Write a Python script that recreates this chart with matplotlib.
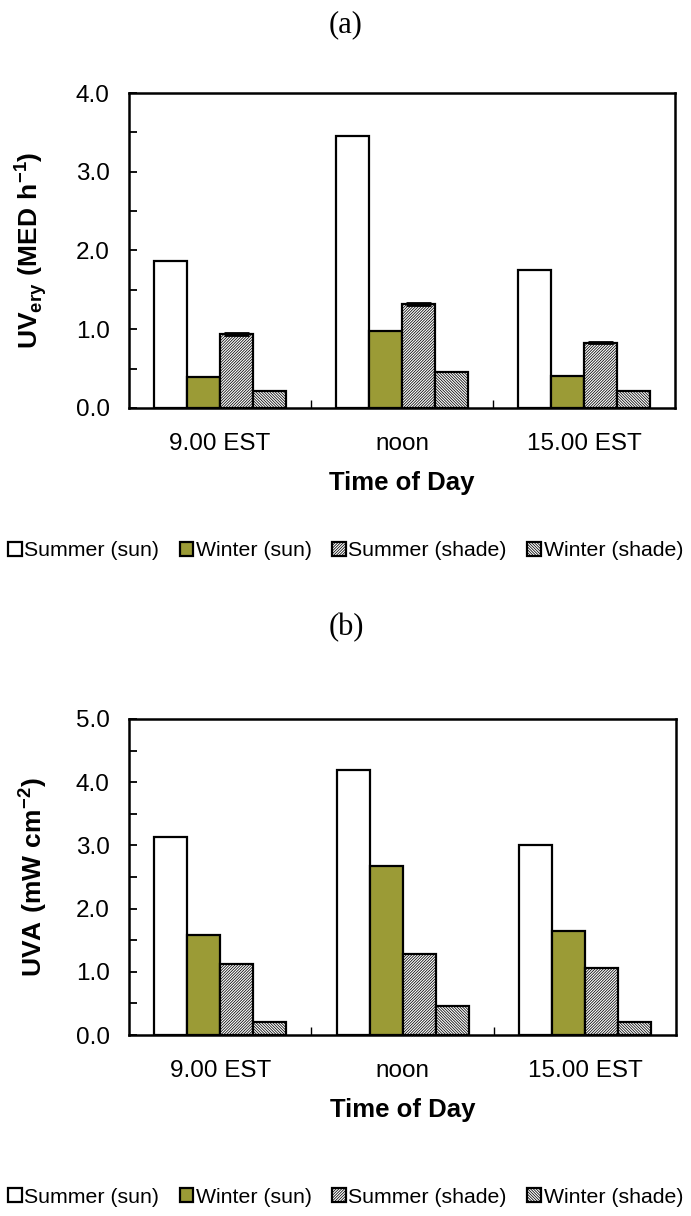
import numpy as np
import matplotlib
matplotlib.use("Agg")
import matplotlib.pyplot as plt
from matplotlib.ticker import MultipleLocator, FormatStrFormatter

plt.rcParams["font.family"] = ["Liberation Sans", "DejaVu Sans"]
plt.rcParams["mathtext.fontset"] = "custom"
plt.rcParams["mathtext.rm"] = "Liberation Sans"
plt.rcParams["mathtext.bf"] = "Liberation Sans:bold"
plt.rcParams["hatch.linewidth"] = 0.55

times = ["9.00 EST", "noon", "15.00 EST"]
series = ["Summer (sun)", "Winter (sun)", "Summer (shade)", "Winter (shade)"]

# panel (a) UVery, MED h-1
uvery_summer_sun = [1.87, 3.45, 1.75]
uvery_winter_sun = [0.39, 0.98, 0.40]
uvery_summer_shade = [0.94, 1.32, 0.83]
uvery_winter_shade = [0.21, 0.46, 0.21]
uvery_shade_err = [0.01, 0.01, 0.01]

# panel (b) UVA, mW cm-2
uva_summer_sun = [3.14, 4.19, 3.01]
uva_winter_sun = [1.58, 2.67, 1.65]
uva_summer_shade = [1.13, 1.28, 1.06]
uva_winter_shade = [0.21, 0.46, 0.21]

olive = "#9b9b36"
fills = ["white", olive, "white", "white"]
hatches = [None, None, "/" * 12, "\\" * 12]

fig = plt.figure(figsize=(6.91, 12.16), dpi=100)
ax_a = fig.add_axes([0.1867, 0.6645, 0.790, 0.259])
ax_b = fig.add_axes([0.1867, 0.1488, 0.792, 0.260])


def draw(ax, data, ymax, ylabel, err=None):
    x = np.arange(len(times))
    w = 0.181
    bars = []
    for i, vals in enumerate(data):
        b = ax.bar(x + (i - 1.5) * w, vals, w, color=fills[i], edgecolor="black",
                   linewidth=1.6, hatch=hatches[i], label=series[i], zorder=2)
        bars.append(b)
    if err is not None:
        ax.errorbar(x + 0.5 * w, data[2], yerr=err, fmt="none", ecolor="black",
                    elinewidth=1.2, capsize=9, capthick=2, zorder=3)
    ax.set_xlim(-0.5, 2.5)
    ax.set_ylim(0, ymax)
    ax.yaxis.set_major_locator(MultipleLocator(1.0))
    ax.yaxis.set_minor_locator(MultipleLocator(0.5))
    ax.yaxis.set_major_formatter(FormatStrFormatter("%.1f"))
    ax.set_xticks([0.5, 1.5])
    ax.set_xticklabels([])
    ax.set_xticks(x, minor=True)
    ax.set_xticklabels(times, minor=True)
    ax.tick_params(axis="x", which="major", direction="in", length=6, width=1)
    ax.tick_params(axis="x", which="minor", length=0, pad=18, labelsize=17.5)
    ax.tick_params(axis="y", which="both", direction="in", length=6, width=1.3,
                   pad=14, labelsize=17.5)
    for s in ax.spines.values():
        s.set_linewidth(1.8)
    ax.set_xlabel("Time of Day", fontsize=18.5, fontweight="bold")
    ax.xaxis.set_label_coords(0.5, -0.2)
    ax.set_ylabel(ylabel, fontsize=19)
    ax.yaxis.set_label_coords(-0.145, 0.5)
    return bars


bars_a = draw(ax_a, [uvery_summer_sun, uvery_winter_sun, uvery_summer_shade, uvery_winter_shade],
              4.0, r"$\mathbf{UV}_{\mathbf{ery}}\ \mathbf{(MED\ h^{-1})}$", err=uvery_shade_err)
bars_b = draw(ax_b, [uva_summer_sun, uva_winter_sun, uva_summer_shade, uva_winter_shade],
              5.0, r"$\mathbf{UVA\ (mW\ cm^{-2})}$")

for bars, yy in [(bars_a, 0.5469), (bars_b, 0.0156)]:
    fig.legend(handles=bars, loc="center", bbox_to_anchor=(0.5, yy), ncol=4,
               frameon=False, fontsize=15.3, handlelength=0.65, handleheight=0.65,
               handletextpad=0.12, columnspacing=0.95, borderaxespad=0)

fig.text(0.5007, 0.9794, "(a)", ha="center", va="center", fontsize=22,
         family=["Liberation Serif", "DejaVu Serif"])
fig.text(0.5007, 0.4836, "(b)", ha="center", va="center", fontsize=22,
         family=["Liberation Serif", "DejaVu Serif"])

fig.savefig("out.png", dpi=100)
